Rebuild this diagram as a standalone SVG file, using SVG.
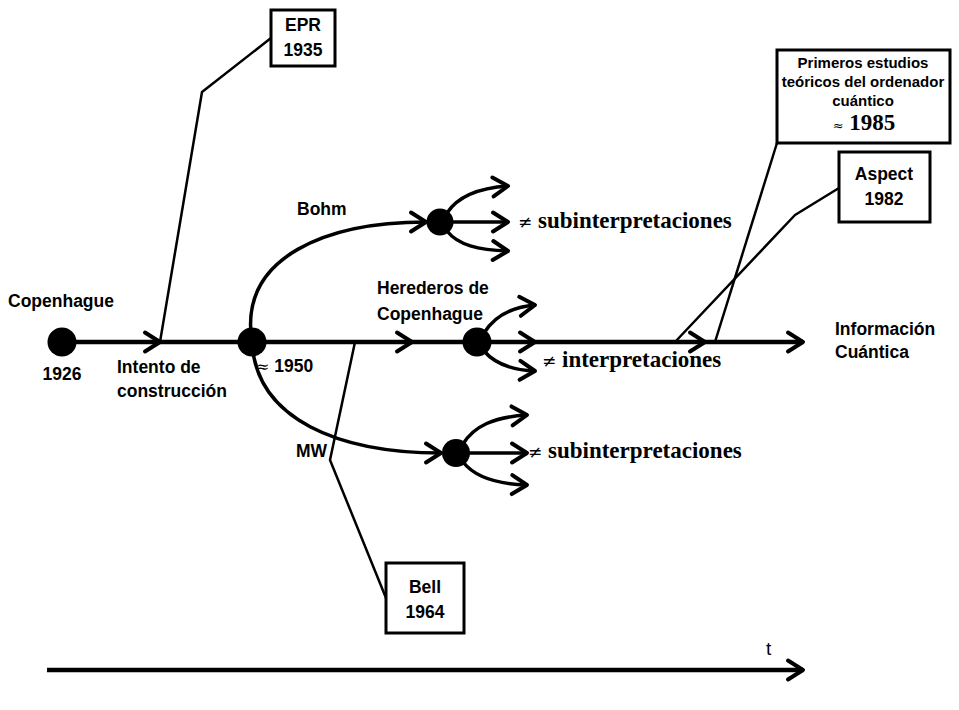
<svg xmlns="http://www.w3.org/2000/svg" width="959" height="710" viewBox="0 0 959 710">
  <defs>
    <style>
      .sans { font-family: "Liberation Sans", Arial, sans-serif; font-weight: bold; font-size: 17.5px; fill: #000; }
      .small { font-family: "Liberation Sans", Arial, sans-serif; font-weight: bold; font-size: 15px; fill: #000; }
      .serif { font-family: "Liberation Serif", "DejaVu Serif", serif; font-weight: bold; font-size: 23px; fill: #000; }
      .math { font-family: "DejaVu Serif", serif; font-weight: normal; }
      .plain { font-family: "Liberation Sans", Arial, sans-serif; font-size: 19px; fill: #000; }
      .mid { text-anchor: middle; }
      .main { stroke: #000; stroke-width: 4.5; fill: none; }
      .curve { stroke: #000; stroke-width: 3.5; fill: none; }
      .callout { stroke: #000; stroke-width: 2.5; fill: none; stroke-linejoin: round; }
      .box { fill: #fff; stroke: #000; stroke-width: 3; }
      .dot { fill: #000; }
    </style>
    <marker id="chev" markerUnits="userSpaceOnUse" viewBox="-20 -14 24 28" markerWidth="24" markerHeight="28" refX="0" refY="0" orient="auto" overflow="visible">
      <path d="M-15,-9.5 L0,0 L-15,9.5" fill="none" stroke="#000" stroke-width="4" stroke-linecap="round" stroke-linejoin="round"/>
    </marker>
  </defs>

  <rect width="959" height="710" fill="#fff"/>

  <!-- connectors: main timeline, branches and callout leaders -->
  <g id="connectors">
    <path class="main" d="M62,342 L160,342" marker-end="url(#chev)"/>
    <path class="main" d="M160,342 L412,342" marker-end="url(#chev)"/>
    <path class="main" d="M412,342 L535,342" marker-end="url(#chev)"/>
    <path class="main" d="M535,342 L705,342" marker-end="url(#chev)"/>
    <path class="main" d="M705,342 L803,342" marker-end="url(#chev)"/>

    <!-- split at ~1950 -->
    <path class="curve" d="M252,342 C238,255 330,222 426,222" marker-end="url(#chev)"/>
    <path class="curve" d="M252,342 C256,420 340,453 441,453" marker-end="url(#chev)"/>

    <!-- Bohm sub-branches -->
    <path class="curve" d="M447,213 C458,196 478,188 508,186" marker-end="url(#chev)"/>
    <path class="curve" d="M453,222 L508,222" marker-end="url(#chev)"/>
    <path class="curve" d="M447,231 C458,245 478,250 508,251" marker-end="url(#chev)"/>

    <!-- Copenhagen heirs sub-branches -->
    <path class="curve" d="M484,333 C495,315 512,307 535,305" marker-end="url(#chev)"/>
    <path class="curve" d="M484,351 C495,364 512,370 535,371" marker-end="url(#chev)"/>

    <!-- MW sub-branches -->
    <path class="curve" d="M463,444 C474,426 494,417 527,415" marker-end="url(#chev)"/>
    <path class="curve" d="M469,453 L527,453" marker-end="url(#chev)"/>
    <path class="curve" d="M463,462 C474,476 494,484 527,485" marker-end="url(#chev)"/>

    <!-- callout leaders -->
    <polyline class="callout" points="160,342 202,92 271,38"/>
    <polyline class="callout" points="355,342 330,460 386,598"/>
    <polyline class="callout" points="675,342 795,215 839,188"/>
    <polyline class="callout" points="715,342 777,143"/>

    <!-- time axis -->
    <path class="main" d="M47,670 L803,670" marker-end="url(#chev)"/>
  </g>

  <g id="copenhague">
    <circle class="dot" cx="62" cy="342" r="14.5"/>
    <text class="sans" x="8" y="307">Copenhague</text>
    <text class="sans mid" x="62" y="380">1926</text>
  </g>

  <g id="intento">
    <text class="sans" x="117" y="373">Intento de</text>
    <text class="sans" x="117" y="397">construcción</text>
  </g>

  <g id="n1950">
    <circle class="dot" cx="252" cy="342" r="14.5"/>
    <text class="sans" x="256" y="372"><tspan class="math" font-size="16">≈</tspan> 1950</text>
  </g>

  <g id="bohm">
    <circle class="dot" cx="440" cy="222" r="13.5"/>
    <text class="sans" x="297" y="215">Bohm</text>
    <text class="serif" x="518" y="228"><tspan class="math" font-size="17">≠</tspan> subinterpretaciones</text>
  </g>

  <g id="herederos">
    <circle class="dot" cx="477" cy="342" r="14.5"/>
    <text class="sans" x="377" y="294">Herederos de</text>
    <text class="sans" x="377" y="320">Copenhague</text>
    <text class="serif" x="542" y="367"><tspan class="math" font-size="17">≠</tspan> interpretaciones</text>
  </g>

  <g id="mw">
    <circle class="dot" cx="456" cy="453" r="14"/>
    <text class="sans" x="296" y="457">MW</text>
    <text class="serif" x="528" y="458"><tspan class="math" font-size="17">≠</tspan> subinterpretaciones</text>
  </g>

  <g id="informacion">
    <text class="sans" x="835" y="335">Información</text>
    <text class="sans" x="835" y="358">Cuántica</text>
  </g>

  <g id="epr">
    <rect class="box" x="271" y="10" width="64" height="56"/>
    <text class="sans mid" x="303" y="31">EPR</text>
    <text class="sans mid" x="303" y="56">1935</text>
  </g>

  <g id="bell">
    <rect class="box" x="386" y="563" width="78" height="70"/>
    <text class="sans mid" x="425" y="593">Bell</text>
    <text class="sans mid" x="425" y="618">1964</text>
  </g>

  <g id="aspect">
    <rect class="box" x="839" y="152" width="91" height="70"/>
    <text class="sans mid" x="884" y="180">Aspect</text>
    <text class="sans mid" x="884" y="205">1982</text>
  </g>

  <g id="ordenador">
    <rect class="box" x="777" y="50" width="173" height="93"/>
    <text class="small mid" x="863" y="68">Primeros estudios</text>
    <text class="small mid" x="863" y="87">teóricos del ordenador</text>
    <text class="small mid" x="863" y="106">cuántico</text>
    <text class="serif mid" x="864" y="130" font-size="16.5"><tspan class="math" font-size="13">≈</tspan> 1985</text>
  </g>

  <g id="tiempo">
    <text class="plain" x="766" y="655">t</text>
  </g>
</svg>
